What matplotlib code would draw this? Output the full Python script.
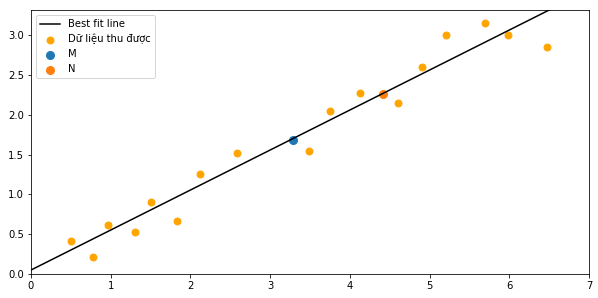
import matplotlib
matplotlib.use("Agg")
import matplotlib.pyplot as plt
import numpy as np

# measured data points
x_data = [0.50, 0.78, 0.97, 1.30, 1.51, 1.83, 2.12, 2.59, 3.49, 3.75,
          4.13, 4.60, 4.91, 5.21, 5.69, 5.99, 6.47]
y_data = [0.42, 0.22, 0.62, 0.53, 0.90, 0.67, 1.26, 1.52, 1.55, 2.05,
          2.28, 2.15, 2.60, 3.01, 3.16, 3.01, 2.86]

# special points
m_point = (3.29, 1.69)
n_point = (4.41, 2.26)

# best fit line parameters
fit_slope = 0.503
fit_intercept = 0.05
x_range = [0, 7]
y_range = [0, 3.32]

fig = plt.figure(figsize=(598 / 72, 298 / 72), dpi=72)
ax = fig.add_axes([31 / 598, 24 / 298, 558 / 598, 264 / 298])

xl = np.array(x_range)
ax.plot(xl, fit_slope * xl + fit_intercept, color="black", label="Best fit line")
ax.scatter(x_data, y_data, color="orange", s=48, label="Dữ liệu thu được")
ax.scatter([m_point[0]], [m_point[1]], color="tab:blue", s=64, label="M")
ax.scatter([n_point[0]], [n_point[1]], color="tab:orange", s=64, label="N")

ax.set_xlim(x_range)
ax.set_ylim(y_range)
ax.legend(loc="upper left")

fig.savefig("out.png", dpi=72)
